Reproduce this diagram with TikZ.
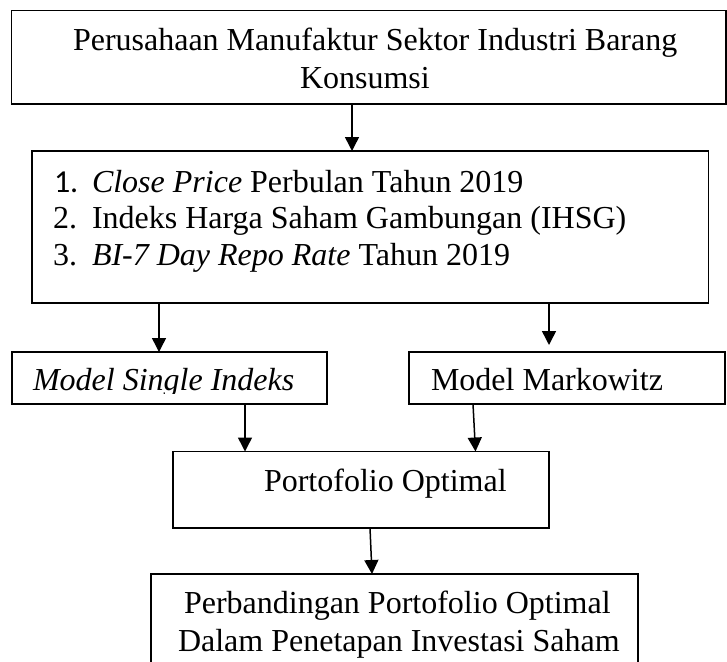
\documentclass[tikz,border=0pt]{standalone}
\usepackage{fontspec}
\setmainfont{Liberation Serif}
\newfontfamily\calib{Carlito}
\usetikzlibrary{arrows.meta}
\begin{document}
\begin{tikzpicture}[x=1pt,y=-1pt,
  box/.style={draw, line width=1.6pt, inner sep=0pt, outer sep=0pt, anchor=north west},
  txt/.style={inner sep=0pt, outer sep=0pt, anchor=base west, font=\fontsize{32}{37}\selectfont},
  arr/.style={line width=1.5pt, -{Triangle[length=14pt,width=14pt]}}]
\path[use as bounding box] (0,0) rectangle (727,661);
\clip (0,0) rectangle (727,661);
% boxes
\node[box, minimum width=714.5pt, minimum height=93.5pt] (top) at (11.5,10.5) {};
\node[box, minimum width=676.5pt, minimum height=152pt] (list) at (32,151) {};
\node[box, minimum width=315pt, minimum height=52pt] (msi) at (12,352) {};
\node[box, minimum width=316pt, minimum height=52pt] (mkw) at (409,352) {};
\node[box, minimum width=376pt, minimum height=76.5pt] (port) at (173,451.5) {};
\node[box, minimum width=487pt, minimum height=126pt] (comp) at (151,574) {};
% texts
\node[txt] (t1) at (73,51) {Perusahaan Manufaktur Sektor Industri Barang};
\node[txt] (t2) at (300,88) {Konsumsi};
\node[txt] (n1) at (54,192) {\calib 1.};
\node[txt] (l1) at (92,192) {\textit{Close Price} Perbulan Tahun 2019};
\node[txt] (n2) at (53,228) {2.};
\node[txt] (l2) at (92,228) {Indeks Harga Saham Gambungan (IHSG)};
\node[txt] (n3) at (53,265) {3.};
\node[txt] (l3) at (92,265) {\textit{BI-7 Day Repo Rate} Tahun 2019};
\begin{scope}
\clip (12,352) rectangle (327,393.5);
\node[txt] (ms) at (33,390) {\textit{Model Single Indeks}};
\end{scope}
\node[txt] (mk) at (431,390) {Model Markowitz};
\node[txt] (po) at (264,491) {Portofolio Optimal};
\node[txt] (c1) at (184,613) {Perbandingan Portofolio Optimal};
\node[txt] (c2) at (178,651) {Dalam Penetapan Investasi Saham};
% arrows
\draw[arr] ([xshift=-16.75pt]top.south) -- ([xshift=-18.25pt]list.north);
\draw[arr] ([xshift=-211.25pt]list.south) -- ([xshift=-10.5pt]msi.north);
\draw[arr] ([xshift=178.75pt]list.south) -- ([xshift=-18pt,yshift=7pt]mkw.north);
\draw[arr] ([xshift=75.5pt]msi.south) -- ([xshift=-116pt]port.north);
\draw[arr] ([xshift=-94pt]mkw.south) -- ([xshift=114.5pt]port.north);
\draw[arr] ([xshift=9pt]port.south) -- ([xshift=-22.5pt]comp.north);
\end{tikzpicture}
\end{document}
